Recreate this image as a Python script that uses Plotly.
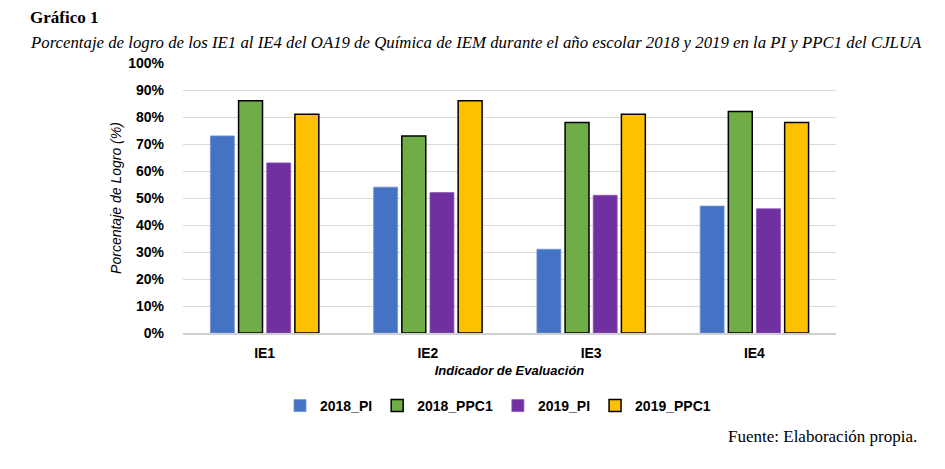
import plotly.graph_objects as go

categories = ["IE1", "IE2", "IE3", "IE4"]
pi_2018 = [73, 54, 31, 47]
ppc1_2018 = [86, 73, 78, 82]
pi_2019 = [63, 52, 51, 46]
ppc1_2019 = [81, 86, 81, 78]
series_names = ["2018_PI", "2018_PPC1", "2019_PI", "2019_PPC1"]
y_ticks = [0, 10, 20, 30, 40, 50, 60, 70, 80, 90, 100]

colors = ["#4472C4", "#70AD47", "#7030A0", "#FFC000"]
line_colors = ["#6f93d6", "#000000", "#8a55b5", "#000000"]
line_widths = [0.8, 1.5, 0.8, 1.5]

OFF = 8  # page body offset
L, R, T, B = 183 - OFF, 945 - 836 + OFF, 63 - OFF, 469 - 333 + OFF
PW = 945 - L - R
PH = 469 - T - B


def px_x(px):
    return (px - OFF - L) / PW


def px_y(py):
    return 1 - (py - OFF - T) / PH


fig = go.Figure()
for name, vals, c, lc, lw in zip(series_names, [pi_2018, ppc1_2018, pi_2019, ppc1_2019],
                                 colors, line_colors, line_widths):
    fig.add_trace(go.Bar(x=categories, y=vals, name=name,
                         marker=dict(color=c, line=dict(color=lc, width=lw))))

fig.update_layout(
    width=945, height=469,
    margin=dict(l=L, r=R, t=T, b=B, autoexpand=False),
    paper_bgcolor="white", plot_bgcolor="white",
    barmode="group", bargap=0.31, bargroupgap=0.15,
    showlegend=True,
    legend=dict(orientation="h", x=px_x(498), xanchor="center", y=px_y(406), yanchor="middle",
                font=dict(family="Liberation Sans", size=14, color="#000000", weight="bold"),
                itemwidth=30, tracegroupgap=0, traceorder="normal"),
    font=dict(family="Liberation Sans", color="#000000"),
)
fig.update_yaxes(range=[0, 100], tickvals=y_ticks, ticktext=[f"{v}%" for v in y_ticks],
                 showgrid=True, gridcolor="#d9d9d9", gridwidth=1, zeroline=False,
                 tickfont=dict(family="Liberation Sans", size=14, color="#000000", weight="bold"),
                 ticklabelstandoff=18,
                 title=dict(text="<i>Porcentaje de Logro (%)</i>", standoff=3,
                            font=dict(family="Liberation Sans", size=14, color="#000000")))
fig.update_xaxes(showline=True, linecolor="#d0d0d0", linewidth=1.5,
                 tickfont=dict(family="Liberation Sans", size=14, color="#000000", weight="bold"),
                 ticklabelstandoff=6,
                 title=dict(text="<b><i>Indicador de Evaluación</i></b>", standoff=6,
                            font=dict(family="Liberation Sans", size=13, color="#000000")))

fig.add_annotation(text="Gráfico 1", xref="paper", yref="paper", x=px_x(28), y=px_y(18),
                   xanchor="left", yanchor="middle", showarrow=False,
                   font=dict(family="Liberation Serif", size=17, color="#000000", weight="bold"))
fig.add_annotation(text="<i>Porcentaje de logro de los IE1 al IE4 del OA19 de Química de IEM durante el año escolar 2018 y 2019 en la PI y PPC1 del CJLUA</i>",
                   xref="paper", yref="paper", x=px_x(28), y=px_y(42),
                   xanchor="left", yanchor="middle", showarrow=False,
                   font=dict(family="Liberation Serif", size=16.8, color="#000000"))
fig.add_annotation(text="Fuente: Elaboración propia.", xref="paper", yref="paper",
                   x=px_x(919), y=px_y(437), xanchor="right", yanchor="middle", showarrow=False,
                   font=dict(family="Liberation Serif", size=17, color="#000000"))

fig.write_html("out.html")
